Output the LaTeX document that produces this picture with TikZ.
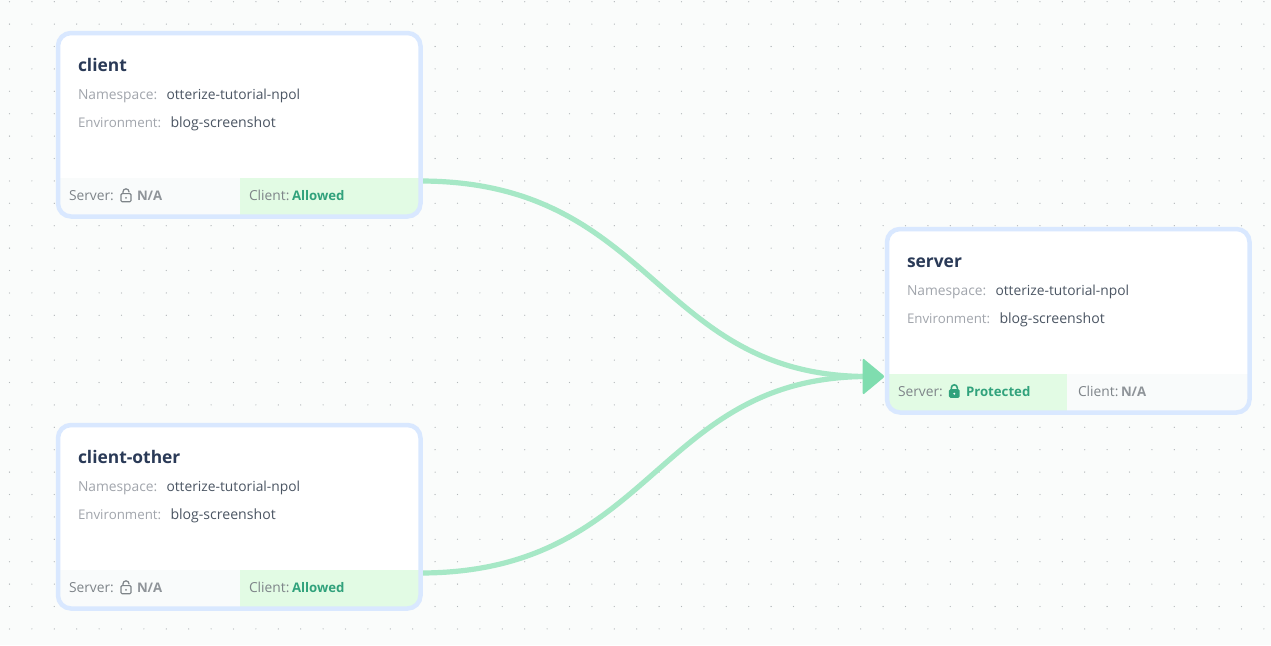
\documentclass[tikz,border=0pt]{standalone}
\usepackage{fontspec}
\setmainfont{Open Sans}
\usetikzlibrary{calc}
\definecolor{bgc}{HTML}{FAFCFB}
\definecolor{dotc}{HTML}{B3B7BA}
\definecolor{borderc}{HTML}{D9E8FF}
\definecolor{greenbg}{HTML}{E2FBE4}
\definecolor{greybg}{HTML}{F9FBFB}
\definecolor{titlec}{HTML}{2A3A57}
\definecolor{labelc}{HTML}{A1A5AC}
\definecolor{valuec}{HTML}{4B5563}
\definecolor{footc}{HTML}{7E8489}
\definecolor{footbc}{HTML}{8F9499}
\definecolor{okc}{HTML}{31A27C}
\definecolor{edgec}{HTML}{A6E8C6}
\definecolor{tipc}{HTML}{7FDDAF}
\tikzset{
  x=1pt,y=-1pt,
  txt/.style={anchor=base west,inner sep=0pt,outer sep=0pt},
  title/.style={txt,font=\fontsize{17.4}{19}\selectfont\bfseries,text=titlec},
  lab/.style={txt,font=\fontsize{13.8}{15}\selectfont,text=labelc},
  labe/.style={txt,font=\fontsize{13.3}{15}\selectfont,text=labelc},
  val/.style={txt,font=\fontsize{13.8}{15}\selectfont,text=valuec},
  vale/.style={txt,font=\fontsize{14.1}{15}\selectfont,text=valuec},
  foot/.style={txt,font=\fontsize{13.8}{15}\selectfont,text=footc},
  footb/.style={txt,font=\fontsize{13.2}{15}\selectfont\bfseries,text=footbc},
  footok/.style={txt,font=\fontsize{13.2}{15}\selectfont\bfseries,text=okc},
  edgeline/.style={draw=edgec,line width=5.2pt},
}
% #1 name, #2 title, #3 dx, #4 dy, #5 left fill, #6 right fill, #7 split x
\newcommand{\card}[7]{%
  \begin{scope}[shift={(#3pt,-#4pt)}]
    \fill[white,rounded corners=13pt] (58,33) rectangle (420.5,216.5);
    \begin{scope}
      \clip[rounded corners=13pt] (58,33) rectangle (420.5,216.5);
      \fill[#5] (58,177.7) rectangle (#7,216.5);
      \fill[#6] (#7,177.7) rectangle (420.5,216.5);
    \end{scope}
    \node[draw=borderc,line width=4.5pt,rounded corners=13pt,inner sep=0pt,minimum width=362.5pt,minimum height=183.5pt] (#1) at (239.25,124.75) {};
    \node[title] (#1-title) at (78,71) {#2};
    \node[lab] (#1-nsl) at (78,99) {Namespace:};
    \node[val] (#1-nsv) at (166.5,99) {otterize-tutorial-npol};
    \node[labe] (#1-envl) at (78,127) {Environment:};
    \node[vale] (#1-envv) at (170.5,127) {blog-screenshot};
    \node[foot] (#1-srv) at (69,200) {Server:};
    \coordinate (#1-lock) at (126,197);
  \end{scope}%
}
\newcommand{\lockopen}[1]{%
  \draw[footc,line width=1.2pt,rounded corners=1.2pt] ($(#1)+(-5,-3.4)$) rectangle ($(#1)+(5,4.8)$);
  \draw[footc,line width=1.2pt] ($(#1)+(-3,-3.4)$) -- ($(#1)+(-3,-5.2)$) arc[start angle=180,end angle=0,x radius=3,y radius=-3] -- ($(#1)+(3,-4.6)$);
  \fill[footc] ($(#1)+(0,0.8)$) circle (1);
}
\newcommand{\lockshut}[1]{%
  \fill[okc,rounded corners=1.5pt] ($(#1)+(-5.4,-1.8)$) rectangle ($(#1)+(5.4,6.9)$);
  \draw[okc,line width=1.6pt] ($(#1)+(-3,-1.8)$) -- ($(#1)+(-3,-3.2)$) arc[start angle=180,end angle=0,x radius=3,y radius=-3] -- ($(#1)+(3,-1.8)$);
  \fill[white] ($(#1)+(0,2.7)$) circle (1.1);
}
\begin{document}
\begin{tikzpicture}
\useasboundingbox (0,0) rectangle (1271,645);
\fill[bgc] (0,0) rectangle (1271,645);
\foreach \i in {0,...,56}{\foreach \j in {0,...,28}{
  \fill[dotc] ({9.5+22.4*\i},{1.7+22.4*\j}) circle (0.65);
}}
% edges first, under the cards
\coordinate (e1) at (420,181);
\coordinate (e2) at (420,573);
\coordinate (tip) at (885,376.5);
\coordinate (base) at (868,376.5);
\draw[edgeline] (e1) .. controls (655,181) and (655,376.5) .. (base);
\draw[edgeline] (e2) .. controls (655,573) and (655,376.5) .. (base);
\card{client}{client}{0}{0}{greybg}{greenbg}{240}
\card{clientother}{client-other}{0}{392}{greybg}{greenbg}{240}
\card{server}{server}{829}{196}{greenbg}{greybg}{238}
% arrow head
\fill[tipc,rounded corners=2pt] (862.7,358) -- (tip) -- (862.7,395) -- cycle;
% footers
\lockopen{client-lock}
\node[foot] (client-cli) at (249,200) {Client:};
\node[footb] (client-srvv) at (137,200) {N/A};
\node[footok] (client-cliv) at (292,200) {Allowed};
\lockopen{clientother-lock}
\node[foot] (clientother-cli) at (249,592) {Client:};
\node[footb] (clientother-srvv) at (137,592) {N/A};
\node[footok] (clientother-cliv) at (292,592) {Allowed};
\coordinate (slock) at (954.3,391);
\lockshut{slock}
\node[footok] (server-srvv) at (966,396) {Protected};
\node[foot] (server-cli) at (1078,396) {Client:};
\node[footb] (server-cliv) at (1121,396) {N/A};
\end{tikzpicture}
\end{document}
